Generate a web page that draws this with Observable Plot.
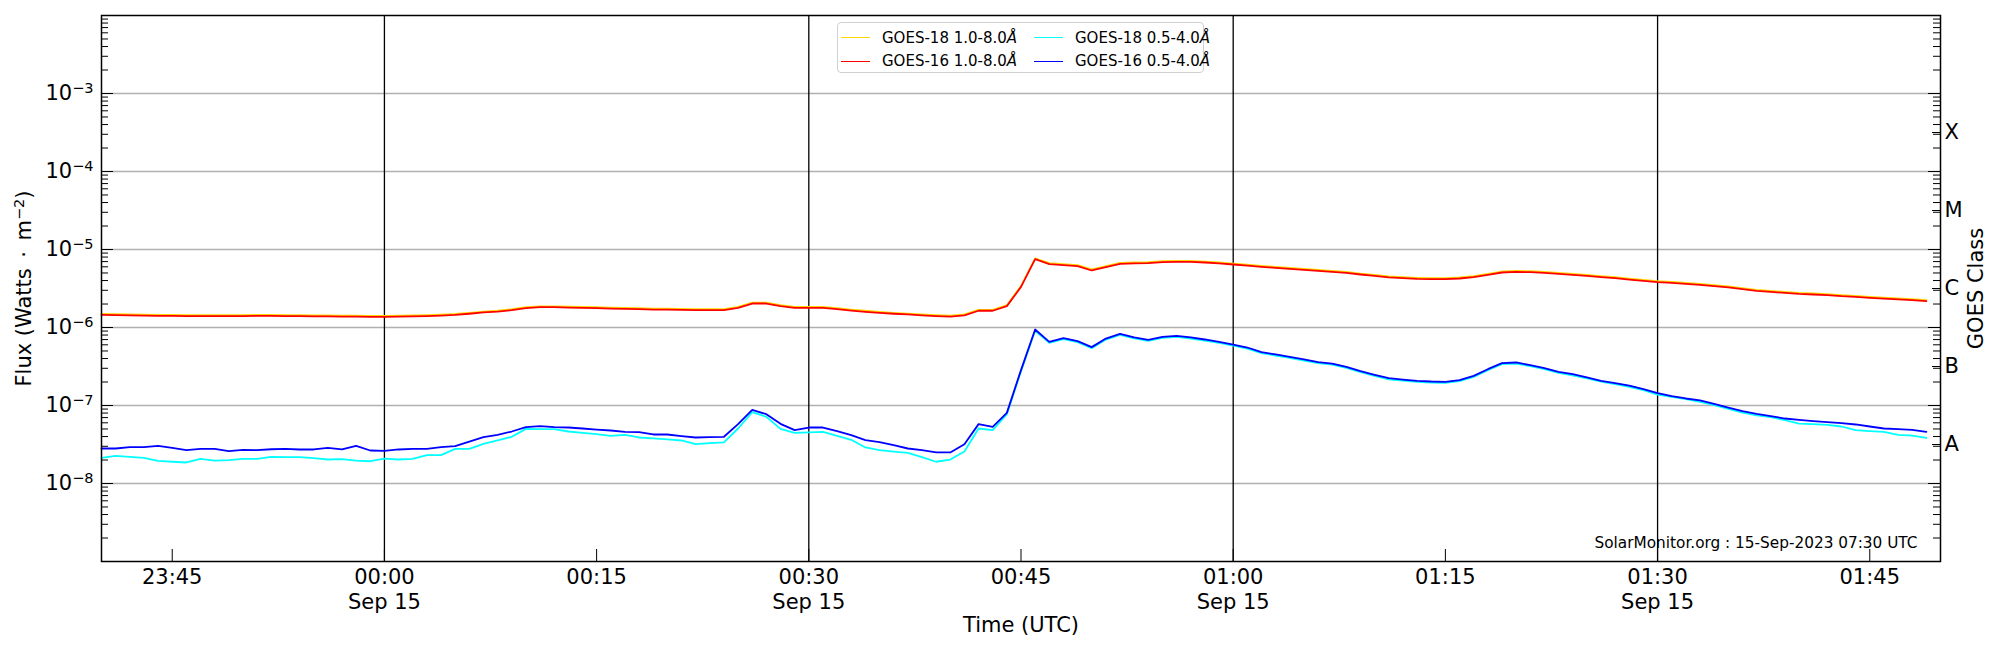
<!DOCTYPE html>
<html>
<head>
<meta charset="utf-8">
<script src="https://cdn.jsdelivr.net/npm/d3@7"></script>
<script src="https://cdn.jsdelivr.net/npm/@observablehq/plot@0.6"></script>
<style>
  html, body { margin: 0; padding: 0; background: white; color: black; }
  #wrap { position: relative; width: 2000px; height: 650px; font-family: "DejaVu Sans", sans-serif; }
  #legend { position: absolute; left: 837px; top: 22px; width: 367px; height: 51px;
            border: 1px solid #d0d0d0; border-radius: 4px; background: rgba(255,255,255,0.8);
            box-sizing: border-box; font-size: 15px; }
  .entry { position: absolute; display: flex; align-items: center; white-space: nowrap; }
  .swatch { width: 29px; height: 0; border-top: 1.6px solid; margin-right: 12px; }
</style>
</head>
<body>
<div id="wrap"></div>
<script>
// ---- data (1-minute cadence starting 2023-09-14 23:40 UTC) ----
const startTime = "2023-09-14T23:40:00Z";
const cadenceMinutes = 1;

const goes18Long = [
  1.49e-6,1.48e-6,1.47e-6,1.46e-6,1.45e-6,1.45e-6,1.44e-6,1.44e-6,1.44e-6,1.44e-6,
  1.44e-6,1.45e-6,1.45e-6,1.44e-6,1.44e-6,1.43e-6,1.43e-6,1.42e-6,1.42e-6,1.41e-6,
  1.41e-6,1.42e-6,1.43e-6,1.44e-6,1.46e-6,1.49e-6,1.54e-6,1.60e-6,1.65e-6,1.72e-6,
  1.82e-6,1.87e-6,1.87e-6,1.85e-6,1.84e-6,1.82e-6,1.80e-6,1.78e-6,1.77e-6,1.75e-6,
  1.75e-6,1.73e-6,1.72e-6,1.72e-6,1.72e-6,1.84e-6,2.08e-6,2.08e-6,1.93e-6,1.84e-6,
  1.84e-6,1.84e-6,1.77e-6,1.70e-6,1.64e-6,1.59e-6,1.54e-6,1.51e-6,1.47e-6,1.44e-6,
  1.42e-6,1.47e-6,1.68e-6,1.68e-6,1.93e-6,3.40e-6,7.70e-6,6.68e-6,6.48e-6,6.29e-6,
  5.55e-6,6.11e-6,6.74e-6,6.81e-6,6.88e-6,7.09e-6,7.15e-6,7.15e-6,7.01e-6,6.81e-6,
  6.61e-6,6.41e-6,6.18e-6,5.99e-6,5.82e-6,5.65e-6,5.49e-6,5.32e-6,5.17e-6,4.92e-6,
  4.73e-6,4.51e-6,4.42e-6,4.34e-6,4.29e-6,4.29e-6,4.38e-6,4.55e-6,4.87e-6,5.22e-6,
  5.32e-6,5.27e-6,5.17e-6,5.03e-6,4.87e-6,4.73e-6,4.55e-6,4.42e-6,4.24e-6,4.08e-6,
  3.92e-6,3.85e-6,3.74e-6,3.63e-6,3.49e-6,3.36e-6,3.19e-6,3.04e-6,2.95e-6,2.86e-6,
  2.78e-6,2.73e-6,2.68e-6,2.60e-6,2.54e-6,2.47e-6,2.42e-6,2.36e-6,2.31e-6,2.25e-6
];

const goes16Long = [
  1.45e-6,1.44e-6,1.43e-6,1.42e-6,1.41e-6,1.41e-6,1.40e-6,1.40e-6,1.40e-6,1.40e-6,
  1.40e-6,1.41e-6,1.41e-6,1.40e-6,1.40e-6,1.39e-6,1.39e-6,1.38e-6,1.38e-6,1.37e-6,
  1.37e-6,1.38e-6,1.39e-6,1.40e-6,1.42e-6,1.45e-6,1.50e-6,1.56e-6,1.60e-6,1.67e-6,
  1.77e-6,1.82e-6,1.82e-6,1.80e-6,1.79e-6,1.77e-6,1.75e-6,1.73e-6,1.72e-6,1.70e-6,
  1.70e-6,1.68e-6,1.67e-6,1.67e-6,1.67e-6,1.79e-6,2.03e-6,2.03e-6,1.88e-6,1.79e-6,
  1.79e-6,1.79e-6,1.72e-6,1.65e-6,1.59e-6,1.54e-6,1.50e-6,1.47e-6,1.43e-6,1.40e-6,
  1.38e-6,1.43e-6,1.64e-6,1.64e-6,1.88e-6,3.32e-6,7.52e-6,6.49e-6,6.30e-6,6.11e-6,
  5.38e-6,5.94e-6,6.55e-6,6.62e-6,6.68e-6,6.89e-6,6.95e-6,6.95e-6,6.81e-6,6.62e-6,
  6.42e-6,6.23e-6,6.00e-6,5.82e-6,5.65e-6,5.49e-6,5.33e-6,5.17e-6,5.02e-6,4.78e-6,
  4.59e-6,4.38e-6,4.29e-6,4.21e-6,4.17e-6,4.17e-6,4.25e-6,4.42e-6,4.73e-6,5.07e-6,
  5.17e-6,5.12e-6,5.02e-6,4.88e-6,4.73e-6,4.59e-6,4.42e-6,4.29e-6,4.12e-6,3.96e-6,
  3.81e-6,3.74e-6,3.63e-6,3.52e-6,3.39e-6,3.26e-6,3.10e-6,2.95e-6,2.86e-6,2.78e-6,
  2.70e-6,2.65e-6,2.60e-6,2.52e-6,2.47e-6,2.40e-6,2.35e-6,2.29e-6,2.24e-6,2.18e-6
];

const goes18Short = [
  2.13e-8,2.26e-8,2.20e-8,2.13e-8,1.95e-8,1.90e-8,1.86e-8,2.07e-8,1.97e-8,1.99e-8,
  2.07e-8,2.07e-8,2.20e-8,2.18e-8,2.18e-8,2.11e-8,2.03e-8,2.05e-8,1.97e-8,1.93e-8,
  2.09e-8,2.03e-8,2.07e-8,2.31e-8,2.31e-8,2.78e-8,2.78e-8,3.23e-8,3.56e-8,3.97e-8,
  5.02e-8,4.98e-8,4.98e-8,4.64e-8,4.47e-8,4.29e-8,4.08e-8,4.21e-8,3.89e-8,3.78e-8,
  3.67e-8,3.56e-8,3.19e-8,3.29e-8,3.36e-8,5.07e-8,8.22e-8,7.16e-8,5.02e-8,4.47e-8,
  4.51e-8,4.59e-8,4.08e-8,3.63e-8,2.90e-8,2.68e-8,2.57e-8,2.47e-8,2.18e-8,1.90e-8,
  2.03e-8,2.57e-8,5.07e-8,4.83e-8,7.74e-8,2.75e-7,9.10e-7,6.35e-7,7.08e-7,6.48e-7,
  5.43e-7,7.00e-7,8.05e-7,7.23e-7,6.74e-7,7.36e-7,7.59e-7,7.23e-7,6.81e-7,6.35e-7,
  5.87e-7,5.37e-7,4.69e-7,4.37e-7,4.08e-7,3.77e-7,3.49e-7,3.35e-7,3.04e-7,2.67e-7,
  2.40e-7,2.17e-7,2.09e-7,2.01e-7,1.97e-7,1.95e-7,2.05e-7,2.33e-7,2.83e-7,3.39e-7,
  3.45e-7,3.19e-7,2.92e-7,2.62e-7,2.44e-7,2.22e-7,2.03e-7,1.88e-7,1.73e-7,1.57e-7,
  1.38e-7,1.29e-7,1.21e-7,1.11e-7,1.01e-7,9.06e-8,8.13e-8,7.45e-8,7.08e-8,6.49e-8,
  5.87e-8,5.77e-8,5.65e-8,5.38e-8,4.83e-8,4.69e-8,4.59e-8,4.21e-8,4.12e-8,3.85e-8
];

const goes16Short = [
  2.81e-8,2.81e-8,2.92e-8,2.92e-8,3.04e-8,2.86e-8,2.68e-8,2.78e-8,2.78e-8,2.60e-8,
  2.70e-8,2.68e-8,2.75e-8,2.78e-8,2.73e-8,2.73e-8,2.86e-8,2.73e-8,3.04e-8,2.65e-8,
  2.62e-8,2.73e-8,2.78e-8,2.78e-8,2.92e-8,3.01e-8,3.45e-8,3.93e-8,4.21e-8,4.64e-8,
  5.28e-8,5.44e-8,5.28e-8,5.22e-8,5.07e-8,4.92e-8,4.78e-8,4.59e-8,4.55e-8,4.25e-8,
  4.25e-8,4.05e-8,3.89e-8,3.93e-8,3.97e-8,5.77e-8,8.79e-8,7.74e-8,5.82e-8,4.83e-8,
  5.22e-8,5.22e-8,4.69e-8,4.17e-8,3.60e-8,3.39e-8,3.10e-8,2.81e-8,2.68e-8,2.50e-8,
  2.50e-8,3.19e-8,5.77e-8,5.33e-8,8.05e-8,2.84e-7,9.42e-7,6.55e-7,7.30e-7,6.68e-7,
  5.60e-7,7.22e-7,8.30e-7,7.45e-7,6.95e-7,7.59e-7,7.82e-7,7.45e-7,7.02e-7,6.55e-7,
  6.05e-7,5.54e-7,4.83e-7,4.51e-7,4.21e-7,3.89e-7,3.60e-7,3.45e-7,3.13e-7,2.75e-7,
  2.47e-7,2.24e-7,2.15e-7,2.07e-7,2.03e-7,2.01e-7,2.11e-7,2.40e-7,2.92e-7,3.49e-7,
  3.56e-7,3.29e-7,3.01e-7,2.70e-7,2.52e-7,2.29e-7,2.07e-7,1.93e-7,1.80e-7,1.62e-7,
  1.44e-7,1.32e-7,1.23e-7,1.16e-7,1.05e-7,9.42e-8,8.46e-8,7.82e-8,7.30e-8,6.81e-8,
  6.55e-8,6.30e-8,6.11e-8,5.94e-8,5.71e-8,5.38e-8,5.07e-8,4.98e-8,4.88e-8,4.59e-8
];

const seriesNames  = ["GOES-18 1.0-8.0", "GOES-16 1.0-8.0", "GOES-18 0.5-4.0", "GOES-16 0.5-4.0"];
const seriesColors = ["#ffd700", "#ff0000", "#00ffff", "#0000ff"];
const seriesValues = [goes18Long, goes16Long, goes18Short, goes16Short];

const xDomain = ["2023-09-14T23:40:00Z", "2023-09-15T01:50:00Z"];
const xTickTimes  = ["2023-09-14T23:45:00Z","2023-09-15T00:00:00Z","2023-09-15T00:15:00Z","2023-09-15T00:30:00Z",
                     "2023-09-15T00:45:00Z","2023-09-15T01:00:00Z","2023-09-15T01:15:00Z","2023-09-15T01:30:00Z","2023-09-15T01:45:00Z"];
const xTickLabels = ["23:45","00:00\nSep 15","00:15","00:30\nSep 15","00:45","01:00\nSep 15","01:15","01:30\nSep 15","01:45"];
const vLineTimes  = ["2023-09-15T00:00:00Z","2023-09-15T00:30:00Z","2023-09-15T01:00:00Z","2023-09-15T01:30:00Z"];

const yDomain = [1e-9, 1e-2];
const yGrid = [1e-8, 1e-7, 1e-6, 1e-5, 1e-4, 1e-3];
const yTickLabels = ["10^{−8}","10^{−7}","10^{−6}","10^{−5}","10^{−4}","10^{−3}"];
const classCenters = [3.162e-8, 3.162e-7, 3.162e-6, 3.162e-5, 3.162e-4];
const classLabels  = ["A", "B", "C", "M", "X"];
const footnote = "SolarMonitor.org : 15-Sep-2023 07:30 UTC";

// ---- build ----
const W = 2000, H = 650, mL = 101, mR = 60, mT = 15, mB = 89;
const plotW = W - mL - mR, plotH = H - mT - mB;
const FS = 21;
const t0 = new Date(startTime).getTime();
const toRows = vals => vals.map((v, i) => ({time: new Date(t0 + i * cadenceMinutes * 60000), flux: v}));

const decadesAll = [];
const minorTicks = [];
for (let e = -9; e <= -2; e++) {
  decadesAll.push(Math.pow(10, e));
  if (e < -2) for (let k = 2; k <= 9; k++) minorTicks.push(k * Math.pow(10, e));
}

const lineMarks = seriesValues.map((vals, i) =>
  Plot.line(toRows(vals), {x: "time", y: "flux", stroke: seriesColors[i], strokeWidth: 1.8}));

const chart = Plot.plot({
  width: W, height: H,
  marginLeft: mL, marginRight: mR, marginTop: mT, marginBottom: mB,
  style: {fontFamily: "DejaVu Sans", fontSize: FS + "px", background: "white", color: "black", overflow: "visible"},
  x: {type: "utc", domain: xDomain.map(d => new Date(d)), axis: null},
  y: {type: "log", domain: yDomain, axis: null},
  marks: [
    Plot.ruleY(yGrid, {stroke: "#b0b0b0", strokeWidth: 1.3}),
    Plot.ruleX(vLineTimes.map(d => new Date(d)), {stroke: "black", strokeWidth: 1.3}),
    ...lineMarks,
    // inward ticks
    Plot.tickY(minorTicks, {insetRight: plotW - 7, stroke: "black", strokeWidth: 1}),
    Plot.tickY(minorTicks, {insetLeft: plotW - 7, stroke: "black", strokeWidth: 1}),
    Plot.tickY(decadesAll, {insetRight: plotW - 12, stroke: "black", strokeWidth: 1}),
    Plot.tickY(decadesAll, {insetLeft: plotW - 12, stroke: "black", strokeWidth: 1}),
    Plot.tickY(classCenters, {insetLeft: plotW - 8, stroke: "black", strokeWidth: 1}),
    Plot.tickX(xTickTimes.map(d => new Date(d)), {insetTop: plotH - 12, stroke: "black", strokeWidth: 1}),
    Plot.frame({stroke: "black", strokeWidth: 1.5}),
    // y tick labels
    Plot.text(yGrid, {y: d => d, text: (d, i) => yTickLabels[i], frameAnchor: "left", dx: -8,
                      textAnchor: "end", fontSize: FS}),
    // class labels
    Plot.text(classCenters, {y: d => d, text: (d, i) => classLabels[i], frameAnchor: "right", dx: 4,
                             textAnchor: "start", fontSize: FS}),
    // x tick labels
    Plot.text(xTickTimes.map(d => new Date(d)), {x: d => d, text: (d, i) => xTickLabels[i],
                             frameAnchor: "bottom", lineAnchor: "top", dy: 5, lineHeight: 1.17, fontSize: FS}),
    // axis titles
    Plot.text(["Time (UTC)"], {frameAnchor: "bottom", dy: 70.5, fontSize: FS}),
    Plot.text(["Flux (Watts\u2002·\u2002m^{−2})"], {frameAnchor: "left", dx: -77, rotate: -90,
                                                  textAnchor: "middle", fontSize: FS}),
    Plot.text(["GOES Class"], {frameAnchor: "right", dx: 36, rotate: -90, textAnchor: "middle", fontSize: FS}),
    Plot.text([footnote], {frameAnchor: "bottom-right", dx: -23, dy: -14, textAnchor: "end", fontSize: 15.3})
  ]
});

// superscripts (matplotlib mathtext style)
(function supify(svg) {
  const ns = "http://www.w3.org/2000/svg";
  svg.querySelectorAll("text").forEach(el => {
    const m = el.textContent.match(/^(.*)\^\{(.*)\}(.*)$/);
    if (!m) return;
    while (el.firstChild) el.removeChild(el.firstChild);
    const a = document.createElementNS(ns, "tspan"); a.textContent = m[1]; el.appendChild(a);
    const b = document.createElementNS(ns, "tspan"); b.textContent = m[2];
    b.setAttribute("dy", "-7.5"); b.setAttribute("font-size", "14.5"); el.appendChild(b);
    if (m[3]) {
      const c = document.createElementNS(ns, "tspan"); c.textContent = m[3];
      c.setAttribute("dy", "7.5"); el.appendChild(c);
    }
  });
})(chart);

const wrap = document.getElementById("wrap");
wrap.appendChild(chart);

// legend (inside plot area, top centre)
const legend = document.createElement("div");
legend.id = "legend";
const pos = [[3, 14.5], [3, 38.3], [196, 14.5], [196, 38.3]];
seriesNames.forEach((name, i) => {
  const e = document.createElement("div");
  e.className = "entry";
  e.style.left = pos[i][0] + "px";
  e.style.top = (pos[i][1] - 10) + "px";
  e.style.height = "20px";
  const sw = document.createElement("span");
  sw.className = "swatch";
  sw.style.borderTopColor = seriesColors[i];
  const tx = document.createElement("span");
  tx.innerHTML = name + "<i>Å</i>";
  e.appendChild(sw); e.appendChild(tx);
  legend.appendChild(e);
});
wrap.appendChild(legend);
</script>
</body>
</html>
